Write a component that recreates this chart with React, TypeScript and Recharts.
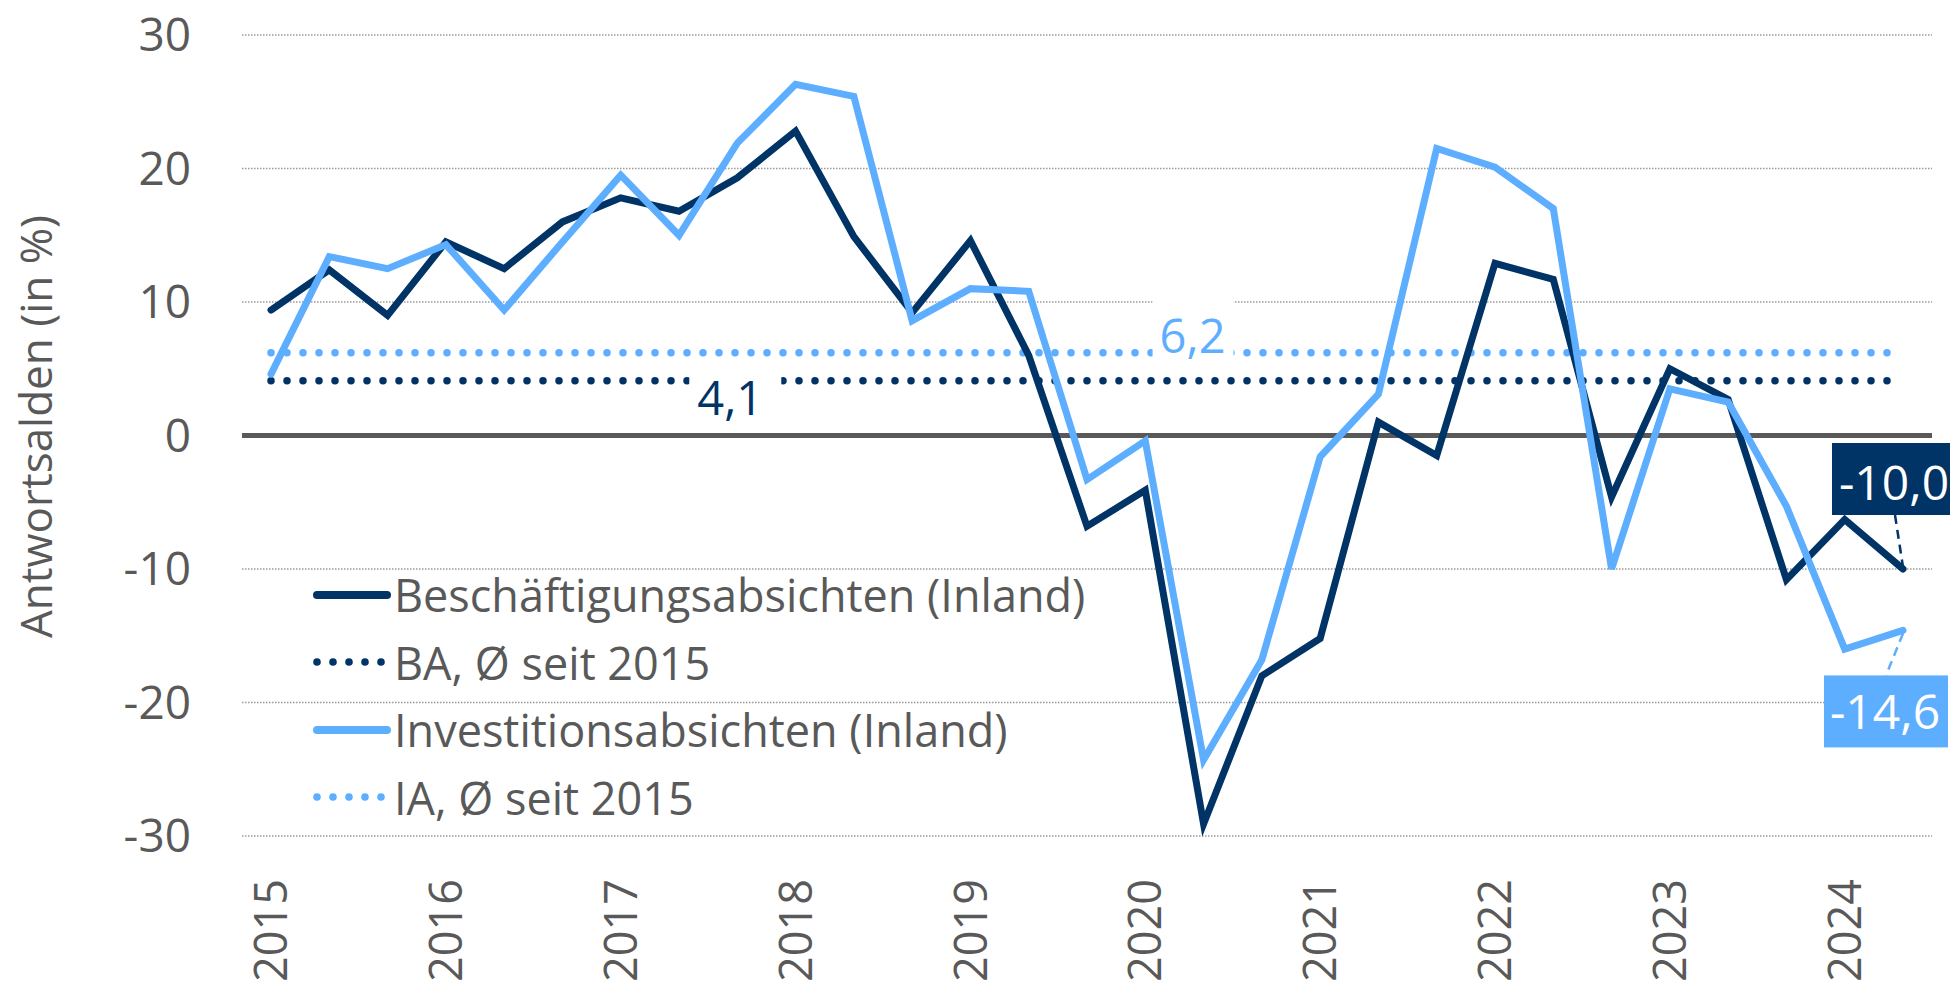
import React from 'react';
import {
  LineChart,
  Line,
  XAxis,
  YAxis,
  CartesianGrid,
  ReferenceLine,
  ReferenceDot,
  Legend,
} from 'recharts';

// ---- data ----
const periods = [
  '2015-1', '2015-2', '2015-3',
  '2016-1', '2016-2', '2016-3',
  '2017-1', '2017-2', '2017-3',
  '2018-1', '2018-2', '2018-3',
  '2019-1', '2019-2', '2019-3',
  '2020-1', '2020-2', '2020-3',
  '2021-1', '2021-2', '2021-3',
  '2022-1', '2022-2', '2022-3',
  '2023-1', '2023-2', '2023-3',
  '2024-1', '2024-2',
];

const beschaeftigung = [
  9.4, 12.4, 9.0,
  14.5, 12.5, 16.0,
  17.8, 16.8, 19.3,
  22.8, 14.9, 9.2,
  14.6, 6.0, -6.8,
  -4.1, -29.1, -18.0,
  -15.2, 1.0, -1.5,
  12.9, 11.7, -4.6,
  5.0, 2.7, -10.8,
  -6.3, -10.0,
];

const investition = [
  4.6, 13.4, 12.5,
  14.3, 9.4, 14.5,
  19.5, 15.0, 21.9,
  26.3, 25.4, 8.6,
  11.0, 10.8, -3.3,
  -0.4, -24.3, -16.8,
  -1.6, 3.1, 21.5,
  20.1, 17.0, -10.0,
  3.5, 2.5, -5.3,
  -16.0, -14.6,
];

const avgBA = 4.1;
const avgIA = 6.2;

const yTicks = [-30, -20, -10, 0, 10, 20, 30];

const legendLabels = [
  'Beschäftigungsabsichten (Inland)',
  'BA, Ø seit 2015',
  'Investitionsabsichten (Inland)',
  'IA, Ø seit 2015',
];

const yTitle = 'Antwortsalden (in %)';

// ---- styles ----
const DARK = '#003366';
const LIGHT = '#5EAEFF';
const GREY = '#595959';
const FONT = "'Open Sans', 'Noto Sans', sans-serif";
const NARROW = "'Liberation Sans Narrow', 'Open Sans', sans-serif";

const data = periods.map((p, i) => ({
  period: p,
  ba: beschaeftigung[i],
  ia: investition[i],
}));

const lastIdx = periods.length - 1;
const fmt = (v: number) => v.toFixed(1).replace('.', ',');

const XTick = (props: any) => {
  const { x, y, payload } = props;
  const v: string = String(payload.value);
  if (!v.endsWith('-1')) return <g />;
  return (
    <text
      transform={`translate(${x},${y + 43}) rotate(-90)`}
      textAnchor="end"
      dy="0.36em"
      fill={GREY}
      fontSize={45}
      fontFamily={FONT}
    >
      {v.slice(0, 4)}
    </text>
  );
};

const YTitle = (props: any) => {
  const vb = props.viewBox || { x: 0, y: 35, width: 242, height: 801 };
  const cx = vb.x + 52;
  const cy = vb.y + vb.height / 2 - 9;
  return (
    <text
      transform={`translate(${cx},${cy}) rotate(-90)`}
      textAnchor="middle"
      fill={GREY}
      fontSize={44}
      fontFamily={FONT}
    >
      {yTitle}
    </text>
  );
};

const AvgLabel = (props: any) => {
  const { viewBox, txt, fg, bx, by, bw, bh, tdx, tdy } = props;
  const vb = viewBox || { x: 0, y: 0, width: 0, height: 0 };
  const cx = vb.x + vb.width / 2;
  const cy = vb.y + vb.height / 2;
  return (
    <g>
      <rect x={cx + bx} y={cy + by} width={bw} height={bh} fill="#ffffff" />
      <text
        x={cx + tdx}
        y={cy + tdy}
        textAnchor="middle"
        fill={fg}
        fontSize={47}
        fontFamily={FONT}
      >
        {txt}
      </text>
    </g>
  );
};

const EndLabel = (props: any) => {
  const { viewBox, txt, bg, bx, by, bw, bh, tdx, tdy, l1, l2 } = props;
  const vb = viewBox || { x: 0, y: 0, width: 0, height: 0 };
  const cx = vb.x + vb.width / 2;
  const cy = vb.y + vb.height / 2;
  return (
    <g>
      <line
        x1={cx + l1[0]}
        y1={cy + l1[1]}
        x2={cx + l2[0]}
        y2={cy + l2[1]}
        stroke={bg}
        strokeWidth={2.5}
        strokeDasharray="9 6"
      />
      <rect x={cx + bx} y={cy + by} width={bw} height={bh} fill={bg} />
      <text
        x={cx + tdx}
        y={cy + tdy}
        textAnchor="middle"
        fill="#ffffff"
        fontSize={48}
        fontFamily={NARROW}
      >
        {txt}
      </text>
    </g>
  );
};

const LegendContent = () => (
  <div style={{ display: 'flex', flexDirection: 'column' }}>
    {legendLabels.map((label, i) => {
      const color = i < 2 ? DARK : LIGHT;
      const dotted = i % 2 === 1;
      return (
        <div
          key={label}
          style={{ display: 'flex', alignItems: 'center', height: 67.5 }}
        >
          <svg width={85} height={20} style={{ flex: '0 0 auto' }}>
            {dotted ? (
              [8, 24, 40, 56, 72].map((cx) => (
                <circle key={cx} cx={cx} cy={10} r={3.8} fill={color} />
              ))
            ) : (
              <line
                x1={8}
                y1={10}
                x2={78}
                y2={10}
                stroke={color}
                strokeWidth={8}
                strokeLinecap="round"
              />
            )}
          </svg>
          <span
            style={{
              fontFamily: FONT,
              fontSize: 45,
              color: GREY,
              lineHeight: '67.5px',
              whiteSpace: 'nowrap',
            }}
          >
            {label}
          </span>
        </div>
      );
    })}
  </div>
);

export default function App() {
  return (
    <div
      style={{
        position: 'absolute',
        left: 0,
        top: 0,
        width: 1950,
        height: 981,
        background: '#ffffff',
      }}
    >
      <LineChart
        width={1950}
        height={981}
        data={data}
        margin={{ top: 35, right: 18, bottom: 0, left: 0 }}
      >
        <CartesianGrid
          vertical={false}
          stroke="#9A9A9A"
          strokeWidth={1.3}
          strokeDasharray="1.5 1.5"
        />
        <XAxis
          dataKey="period"
          type="category"
          interval={0}
          height={145}
          padding={{ left: 29, right: 29 }}
          axisLine={false}
          tickLine={false}
          tickSize={0}
          tickMargin={0}
          tick={XTick}
        />
        <YAxis
          type="number"
          domain={[-30, 30]}
          ticks={yTicks}
          interval={0}
          width={242}
          axisLine={false}
          tickLine={false}
          tickSize={0}
          tickMargin={51}
          tick={{ fill: GREY, fontSize: 46, fontFamily: FONT }}
          label={<YTitle />}
        />
        <ReferenceLine y={0} stroke={GREY} strokeWidth={5} />
        <ReferenceLine
          segment={[
            { x: periods[0], y: avgIA },
            { x: periods[lastIdx], y: avgIA },
          ]}
          stroke={LIGHT}
          strokeWidth={7.5}
          strokeDasharray="0 16"
          strokeLinecap="round"
        />
        <ReferenceLine
          segment={[
            { x: periods[0], y: avgBA },
            { x: periods[lastIdx], y: avgBA },
          ]}
          stroke={DARK}
          strokeWidth={7.5}
          strokeDasharray="0 16"
          strokeLinecap="round"
        />
        <Line
          type="linear"
          dataKey="ba"
          stroke={DARK}
          strokeWidth={7}
          strokeLinecap="round"
          dot={false}
          activeDot={false}
          isAnimationActive={false}
        />
        <Line
          type="linear"
          dataKey="ia"
          stroke={LIGHT}
          strokeWidth={7}
          strokeLinecap="round"
          dot={false}
          activeDot={false}
          isAnimationActive={false}
        />
        <ReferenceDot
          x={periods[8]}
          y={avgBA}
          r={1}
          fill="none"
          stroke="none"
          label={
            <AvgLabel
              txt={fmt(avgBA)}
              fg={DARK}
              bx={-48}
              by={-14}
              bw={92}
              bh={62}
              tdx={-7}
              tdy={34}
            />
          }
        />
        <ReferenceDot
          x={periods[16]}
          y={avgIA}
          r={1}
          fill="none"
          stroke="none"
          label={
            <AvgLabel
              txt={fmt(avgIA)}
              fg={LIGHT}
              bx={-51}
              by={-57}
              bw={81}
              bh={67}
              tdx={-11}
              tdy={0}
            />
          }
        />
        <ReferenceDot
          x={periods[lastIdx]}
          y={beschaeftigung[lastIdx]}
          r={1}
          fill="none"
          stroke="none"
          label={
            <EndLabel
              txt={fmt(beschaeftigung[lastIdx])}
              bg={DARK}
              bx={-71}
              by={-126}
              bw={125}
              bh={72}
              tdx={-9}
              tdy={-69}
              l1={[-8, -54]}
              l2={[0, -2]}
            />
          }
        />
        <ReferenceDot
          x={periods[lastIdx]}
          y={investition[lastIdx]}
          r={1}
          fill="none"
          stroke="none"
          label={
            <EndLabel
              txt={fmt(investition[lastIdx])}
              bg={LIGHT}
              bx={-79}
              by={45}
              bw={124}
              bh={72}
              tdx={-18}
              tdy={99}
              l1={[0, 3]}
              l2={[-17, 45]}
            />
          }
        />
        <Legend
          layout="horizontal"
          verticalAlign="middle"
          align="center"
          content={LegendContent}
          wrapperStyle={{
            position: 'absolute',
            left: 309,
            top: 561,
            width: 820,
            height: 270,
          }}
        />
      </LineChart>
    </div>
  );
}
